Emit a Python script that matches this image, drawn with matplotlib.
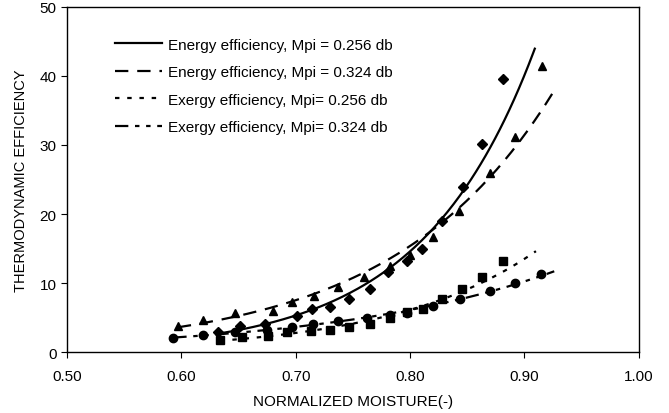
import numpy as np
import matplotlib
matplotlib.use("Agg")
import matplotlib.pyplot as plt

# measured points: normalized moisture vs efficiency (%)
energy_256_x = [0.632, 0.651, 0.673, 0.701, 0.714, 0.730, 0.747, 0.765, 0.781, 0.797,
                0.810, 0.828, 0.846, 0.863, 0.881]
energy_256_y = [2.9, 3.8, 4.1, 5.2, 6.2, 6.5, 7.7, 9.1, 11.6, 13.2,
                14.9, 19.0, 23.9, 30.1, 39.6]

energy_324_x = [0.597, 0.619, 0.647, 0.680, 0.697, 0.716, 0.737, 0.760, 0.782, 0.800,
                0.820, 0.843, 0.870, 0.892, 0.915]
energy_324_y = [3.8, 4.7, 5.6, 6.0, 7.2, 8.1, 9.5, 10.9, 12.5, 14.0,
                16.7, 20.4, 26.0, 31.2, 41.4]

exergy_256_x = [0.634, 0.653, 0.676, 0.692, 0.713, 0.730, 0.747, 0.765, 0.782, 0.797,
                0.811, 0.828, 0.845, 0.863, 0.881]
exergy_256_y = [1.7, 2.2, 2.3, 2.9, 3.0, 3.2, 3.6, 4.1, 5.0, 5.8,
                6.2, 7.7, 9.1, 10.9, 13.2]

exergy_324_x = [0.593, 0.619, 0.647, 0.675, 0.697, 0.715, 0.737, 0.762, 0.782, 0.797,
                0.820, 0.844, 0.870, 0.892, 0.914]
exergy_324_y = [2.0, 2.5, 2.9, 3.2, 3.6, 4.1, 4.5, 5.0, 5.4, 5.6,
                6.7, 7.7, 8.8, 10.0, 11.3]

# trendline forecast end for each series
fit_end = [0.909, 0.925, 0.91, 0.926]

labels = [
    "Energy efficiency, Mpi = 0.256 db",
    "Energy efficiency, Mpi = 0.324 db",
    "Exergy efficiency, Mpi= 0.256 db",
    "Exergy efficiency, Mpi= 0.324 db",
]

plt.rcParams["font.family"] = ["Liberation Sans", "DejaVu Sans"]

series = [
    (energy_256_x, energy_256_y, "D", 5.0, "-"),
    (energy_324_x, energy_324_y, "^", 6.0, (0, (6, 4))),
    (exergy_256_x, exergy_256_y, "s", 5.5, (0, (2, 3.5))),
    (exergy_324_x, exergy_324_y, "o", 6.0, (0, (6, 3, 2, 3, 2, 3))),
]

fig = plt.figure(figsize=(6.69, 4.14), dpi=100)
ax = fig.add_axes([0.100, 0.147, 0.855, 0.834])

for (xs, ys, marker, ms, ls), xend, label in zip(series, fit_end, labels):
    xs = np.array(xs)
    ys = np.array(ys)
    ax.plot(xs, ys, linestyle="none", marker=marker, ms=ms, color="black")
    # exponential trendline (least squares on log y)
    coef = np.polyfit(xs, np.log(ys), 1)
    xf = np.linspace(xs.min(), xend, 200)
    ax.plot(xf, np.exp(np.polyval(coef, xf)), linestyle=ls, lw=1.6,
            color="black", label=label)

ax.set_xlim(0.5, 1.0)
ax.set_ylim(0, 50)
ax.set_xticks(np.arange(0.5, 1.001, 0.1))
ax.set_xticklabels([f"{v:.2f}" for v in np.arange(0.5, 1.001, 0.1)])
ax.set_yticks(range(0, 51, 10))
ax.tick_params(direction="out", length=4, labelsize=11, colors="black")
ax.tick_params(axis="x", pad=8)
for s in ax.spines.values():
    s.set_linewidth(1.0)

ax.set_xlabel("NORMALIZED MOISTURE(-)", fontsize=11, labelpad=8)
ax.set_ylabel("THERMODYNAMIC EFFICIENCY", fontsize=10.5, labelpad=8)

ax.legend(loc="upper left", bbox_to_anchor=(0.073, 0.928), frameon=False,
          fontsize=11, handlelength=3.1, handletextpad=0.4, labelspacing=0.88,
          borderaxespad=0)

fig.savefig("out.png", dpi=100)
